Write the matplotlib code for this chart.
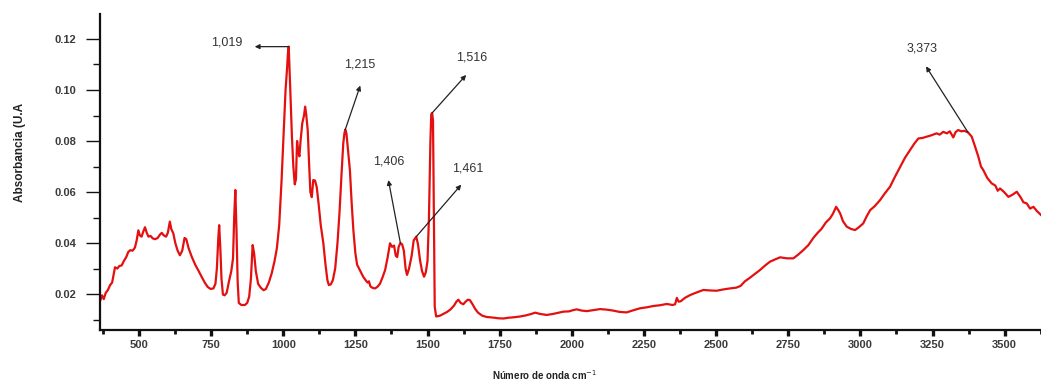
import numpy as np
import matplotlib
matplotlib.use("Agg")
import matplotlib.pyplot as plt
from matplotlib.ticker import MultipleLocator, FormatStrFormatter

plt.rcParams["font.family"] = ["Liberation Sans", "DejaVu Sans"]

# FTIR spectrum: wavenumber (cm^-1) and absorbance (U.A)
wavenumber = [
    366, 372, 378, 385, 392, 400, 407, 412, 417, 425, 432, 440, 448, 456, 463, 470, 478, 486,
    492, 498, 503, 509, 515, 521, 527, 533, 540, 548, 556, 565, 572, 579, 586, 594, 600, 607,
    612, 619, 626, 634, 642, 650, 658, 664, 672, 683, 695, 707, 717, 728, 738, 748, 758, 765,
    770, 775, 778, 782, 786, 791, 797, 804, 812, 820, 826, 830, 834, 838, 842, 846, 855, 867,
    875, 882, 888, 894, 899, 905, 913, 922, 932, 940, 950, 960, 970, 978, 986, 994, 1002, 1008,
    1013, 1016, 1019, 1022, 1026, 1030, 1035, 1040, 1044, 1048, 1052, 1056, 1060, 1066, 1072,
    1076, 1080, 1085, 1090, 1094, 1099, 1104, 1110, 1116, 1122, 1130, 1139, 1147, 1153, 1158,
    1165, 1172, 1180, 1188, 1195, 1202, 1208, 1212, 1215, 1219, 1225, 1231, 1237, 1243, 1250,
    1256, 1265, 1277, 1285, 1292, 1297, 1302, 1310, 1318, 1326, 1335, 1344, 1353, 1362, 1370,
    1377, 1384, 1390, 1395, 1400, 1406, 1412, 1418, 1424, 1429, 1436, 1445, 1452, 1461, 1467,
    1474, 1481, 1488, 1494, 1500, 1505, 1510, 1513, 1516, 1519, 1522, 1525, 1530, 1543, 1555,
    1568, 1580, 1592, 1600, 1607, 1615, 1624, 1632, 1640, 1647, 1656, 1665, 1675, 1690, 1705,
    1725, 1745, 1763, 1780, 1800, 1821, 1840, 1860, 1873, 1890, 1913, 1935, 1955, 1971, 1990,
    2005, 2017, 2035, 2052, 2075, 2098, 2120, 2144, 2165, 2190, 2212, 2236, 2260, 2282, 2305,
    2329, 2350, 2358, 2364, 2370, 2378, 2392, 2410, 2432, 2456, 2480, 2502, 2525, 2548, 2570,
    2585, 2600, 2615, 2630, 2652, 2670, 2687, 2705, 2722, 2745, 2768, 2785, 2802, 2820, 2837,
    2852, 2865, 2880, 2895, 2905, 2916, 2923, 2930, 2940, 2953, 2968, 2982, 2995, 3010, 3022,
    3034, 3050, 3068, 3085, 3103, 3120, 3138, 3155, 3172, 3187, 3201, 3215, 3230, 3245, 3264,
    3275, 3287, 3300, 3310, 3322, 3330, 3339, 3350, 3360, 3373, 3386, 3397, 3409, 3418, 3426,
    3440, 3455, 3468, 3476, 3484, 3498, 3513, 3528, 3542, 3555, 3565, 3577, 3588, 3600, 3612,
    3626,
]
absorbance = [
    0.0175, 0.0195, 0.0180, 0.0205, 0.0215, 0.0235, 0.0245, 0.0275, 0.0305, 0.0300, 0.0310,
    0.0312, 0.0330, 0.0345, 0.0365, 0.0372, 0.0370, 0.0382, 0.0410, 0.0450, 0.0430, 0.0425,
    0.0445, 0.0462, 0.0440, 0.0425, 0.0428, 0.0418, 0.0415, 0.0420, 0.0432, 0.0440, 0.0430,
    0.0425, 0.0440, 0.0484, 0.0455, 0.0438, 0.0400, 0.0370, 0.0352, 0.0370, 0.0420, 0.0415,
    0.0380, 0.0346, 0.0315, 0.0290, 0.0268, 0.0245, 0.0228, 0.0220, 0.0222, 0.0240, 0.0300,
    0.0420, 0.0470, 0.0380, 0.0260, 0.0198, 0.0195, 0.0205, 0.0250, 0.0290, 0.0340, 0.0500,
    0.0608, 0.0450, 0.0250, 0.0165, 0.0157, 0.0157, 0.0165, 0.0190, 0.0260, 0.0392, 0.0360,
    0.0290, 0.0240, 0.0225, 0.0215, 0.0220, 0.0245, 0.0281, 0.0330, 0.0380, 0.0470, 0.0640,
    0.0850, 0.1000, 0.1080, 0.1140, 0.1170, 0.1080, 0.0950, 0.0820, 0.0700, 0.0630, 0.0650,
    0.0800, 0.0760, 0.0740, 0.0800, 0.0870, 0.0900, 0.0935, 0.0900, 0.0840, 0.0700, 0.0600,
    0.0580, 0.0647, 0.0645, 0.0620, 0.0560, 0.0470, 0.0399, 0.0310, 0.0255, 0.0235, 0.0238,
    0.0255, 0.0300, 0.0400, 0.0520, 0.0670, 0.0790, 0.0830, 0.0845, 0.0830, 0.0760, 0.0686,
    0.0560, 0.0451, 0.0360, 0.0315, 0.0295, 0.0268, 0.0255, 0.0245, 0.0250, 0.0230, 0.0224,
    0.0222, 0.0228, 0.0240, 0.0265, 0.0294, 0.0345, 0.0399, 0.0385, 0.0390, 0.0350, 0.0345,
    0.0385, 0.0400, 0.0395, 0.0370, 0.0300, 0.0275, 0.0300, 0.0350, 0.0410, 0.0425, 0.0395,
    0.0333, 0.0290, 0.0268, 0.0285, 0.0330, 0.0500, 0.0800, 0.0905, 0.0910, 0.0880, 0.0500,
    0.0150, 0.0112, 0.0115, 0.0122, 0.0130, 0.0140, 0.0155, 0.0170, 0.0178, 0.0165, 0.0160,
    0.0170, 0.0178, 0.0176, 0.0160, 0.0142, 0.0127, 0.0115, 0.0110, 0.0108, 0.0105, 0.0104,
    0.0107, 0.0109, 0.0112, 0.0116, 0.0122, 0.0127, 0.0122, 0.0118, 0.0122, 0.0127, 0.0131,
    0.0132, 0.0137, 0.0140, 0.0135, 0.0133, 0.0137, 0.0141, 0.0139, 0.0135, 0.0130, 0.0128,
    0.0136, 0.0144, 0.0148, 0.0153, 0.0156, 0.0161, 0.0157, 0.0160, 0.0185, 0.0170, 0.0172,
    0.0185, 0.0196, 0.0206, 0.0216, 0.0214, 0.0213, 0.0218, 0.0222, 0.0225, 0.0232, 0.0250,
    0.0262, 0.0275, 0.0294, 0.0312, 0.0327, 0.0336, 0.0344, 0.0340, 0.0340, 0.0355, 0.0372,
    0.0392, 0.0420, 0.0440, 0.0455, 0.0480, 0.0497, 0.0515, 0.0542, 0.0530, 0.0516, 0.0485,
    0.0464, 0.0455, 0.0451, 0.0462, 0.0477, 0.0505, 0.0529, 0.0545, 0.0568, 0.0595, 0.0621,
    0.0660, 0.0699, 0.0735, 0.0764, 0.0790, 0.0810, 0.0812, 0.0817, 0.0822, 0.0830, 0.0825,
    0.0836, 0.0830, 0.0838, 0.0814, 0.0835, 0.0843, 0.0838, 0.0840, 0.0834, 0.0817, 0.0780,
    0.0738, 0.0700, 0.0686, 0.0655, 0.0634, 0.0625, 0.0605, 0.0614, 0.0600, 0.0581, 0.0590,
    0.0601, 0.0580, 0.0560, 0.0555, 0.0535, 0.0542, 0.0525, 0.0510,
]

# Labelled band positions (cm^-1)
peak_wavenumbers = [1019, 1215, 1406, 1461, 1516, 3373]

# Arrow tip and label centre offsets from each band, in pixels
arrow_offsets = [(-34, 0), (15, 44), (-12, 63), (45, 52), (34, 38), (-42, 66)]
label_offsets = [(-62, 4), (14, 65), (-12, 82), (51, 68), (40, 55), (-46, 84)]

fig = plt.figure(figsize=(10.41, 3.81), dpi=100)
ax = fig.add_axes([100 / 1041, 51 / 381, 941 / 1041, 316 / 381])

ax.plot(wavenumber, absorbance, color="#e41010", lw=1.6, solid_joinstyle="round")

ax.set_xlim(365, 3626)
ax.set_ylim(0.0059, 0.1298)

for side in ("top", "right"):
    ax.spines[side].set_visible(False)
for side in ("left", "bottom"):
    ax.spines[side].set_linewidth(1.6)
    ax.spines[side].set_color("#111111")

ax.xaxis.set_major_locator(MultipleLocator(250))
ax.xaxis.set_minor_locator(MultipleLocator(125))
ax.yaxis.set_major_locator(MultipleLocator(0.02))
ax.yaxis.set_minor_locator(MultipleLocator(0.01))
ax.yaxis.set_major_formatter(FormatStrFormatter("%.2f"))

ax.tick_params(axis="y", which="major", direction="out", length=10, width=1.0,
               pad=7, labelsize=8, labelcolor="#3a3a3a", color="#111111")
ax.tick_params(axis="y", which="minor", direction="out", length=5, width=1.0,
               color="#111111")
ax.tick_params(axis="x", which="major", direction="out", length=4, width=2.4,
               pad=3, labelsize=8, labelcolor="#3a3a3a", color="#111111")
ax.tick_params(axis="x", which="minor", direction="out", length=3, width=2.0,
               color="#111111")
for lab in ax.get_xticklabels() + ax.get_yticklabels():
    lab.set_fontweight("bold")

for w, aoff, loff in zip(peak_wavenumbers, arrow_offsets, label_offsets):
    y = float(np.interp(w, wavenumber, absorbance))
    ax.annotate("", xy=(w, y), xytext=aoff, textcoords="offset pixels",
                arrowprops=dict(arrowstyle="<|-", color="#222222", lw=0.9,
                                shrinkA=0, shrinkB=0, mutation_scale=7))
    ax.annotate(f"{w:,}", xy=(w, y), xytext=loff, textcoords="offset pixels",
                ha="center", va="center", fontsize=9, color="#333333")

fig.text(545 / 1041, 1 - 375 / 381, "Número de onda cm$^{-1}$", ha="center",
         va="center", fontsize=7, fontweight="bold", color="#222222")
fig.text(20 / 1041, 1 - 152 / 381, "Absorbancia (U.A", ha="center", va="center",
         rotation=90, fontsize=8.5, fontweight="bold", color="#222222")

fig.savefig("out.png", dpi=100, facecolor="white")
